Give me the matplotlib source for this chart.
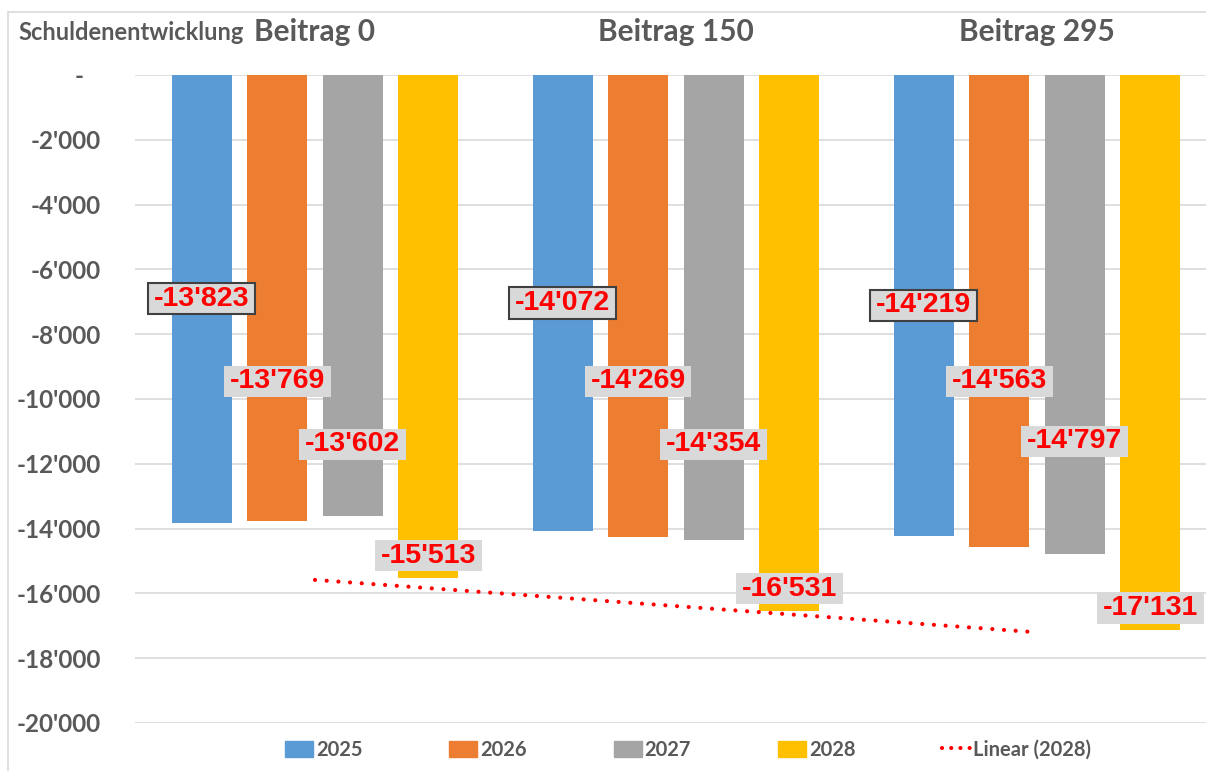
import numpy as np
import matplotlib.pyplot as plt
from matplotlib.patches import Patch, Rectangle
from matplotlib.lines import Line2D
from matplotlib.ticker import FuncFormatter

groups = ['Beitrag 0', 'Beitrag 150', 'Beitrag 295']
years = ['2025', '2026', '2027', '2028']
v2025 = [-13823, -14072, -14219]
v2026 = [-13769, -14269, -14563]
v2027 = [-13602, -14354, -14797]
v2028 = [-15513, -16531, -17131]
series = [v2025, v2026, v2027, v2028]
colors = ['#5B9BD5', '#ED7D31', '#A5A5A5', '#FFC000']
yticks = list(range(-20000, 1, 2000))

GRAY = '#595959'
TXT = 'Lato'


def fmt(v):
    return f"{int(v):,}".replace(',', "'")


fig = plt.figure(figsize=(12.06, 7.71), dpi=100)
W, H = 1206, 771
ax = fig.add_axes([134.5 / W, 1 - 723 / H, 1083 / W, 648 / H])

# chart border
fig.patches.append(Rectangle((8 / W, -0.1), 1.2, 1 - 12 / H + 0.1, transform=fig.transFigure,
                             fill=False, edgecolor='#D9D9D9', lw=1.2))

x = np.arange(len(groups))
step, width = 0.2093, 0.166
offsets = (np.arange(4) - 1.5) * step

for i, vals in enumerate(series):
    ax.bar(x + offsets[i], vals, width, color=colors[i], zorder=2)

# label heights (manually placed in the original)
lab_y = [
    [v / 2 for v in v2025],
    [-9450] * 3,
    [-11400, -11400, -11300],
    [v + 680 for v in v2028],
]
for i, vals in enumerate(series):
    for j, v in enumerate(vals):
        bb = dict(boxstyle='square,pad=0.2', fc='#D9D9D9', mutation_aspect=0.45,
                  ec='#404040' if i == 0 else 'none', lw=1.5)
        ax.text(x[j] + offsets[i], lab_y[i][j], fmt(v), color='#FF0000',
                fontsize=20.5, fontweight='bold', family='Liberation Sans',
                ha='center', va='center', bbox=bb, zorder=4)

# linear trend of 2028
coef = np.polyfit(x, v2028, 1)
tx = np.array([x[0], x[-1]])
ax.plot(tx, np.polyval(coef, tx), color='#FF0000', lw=3,
        linestyle=(0, (0.01, 2.8)), dash_capstyle='round', zorder=3)

ax.set_xlim(-0.5, 2.5)
ax.set_ylim(-20000, 0)
ax.set_yticks(yticks)
ax.yaxis.set_major_formatter(FuncFormatter(lambda v, p: fmt(v) if v != 0 else '-   '))
ax.tick_params(axis='y', length=0, pad=24, labelsize=17.5, labelcolor=GRAY)
for lab in ax.get_yticklabels():
    lab.set_family(TXT)
    lab.set_fontweight('bold')
ax.set_xticks([])
ax.grid(axis='y', color='#D9D9D9', lw=1.2, zorder=0)
for s in ax.spines.values():
    s.set_visible(False)

# group titles on top
for j, g in enumerate(groups):
    ax.text(x[j], 1 + 34 / 648, g, transform=ax.get_xaxis_transform(), ha='center',
            va='baseline', fontsize=21.5, fontweight='bold', family=TXT, color=GRAY)
fig.text(18 / W, 1 - 40 / H, 'Schuldenentwicklung', fontsize=17, fontweight='bold',
         family=TXT, color=GRAY, va='baseline')

handles = [Patch(color=c) for c in colors]
handles.append(Line2D([], [], color='#FF0000', lw=3, linestyle=(0, (0.01, 2.2)),
                      dash_capstyle='round'))
leg = fig.legend(handles, years + ['Linear (2028)'], loc='center', ncol=5,
                 bbox_to_anchor=(688 / W, 1 - 750 / H), frameon=False,
                 prop={'family': TXT, 'weight': 'bold', 'size': 14.5},
                 handlelength=1.4, handleheight=0.9, handletextpad=0.15, columnspacing=4.3)
for t in leg.get_texts():
    t.set_color(GRAY)

fig.savefig('out.png', dpi=100)
